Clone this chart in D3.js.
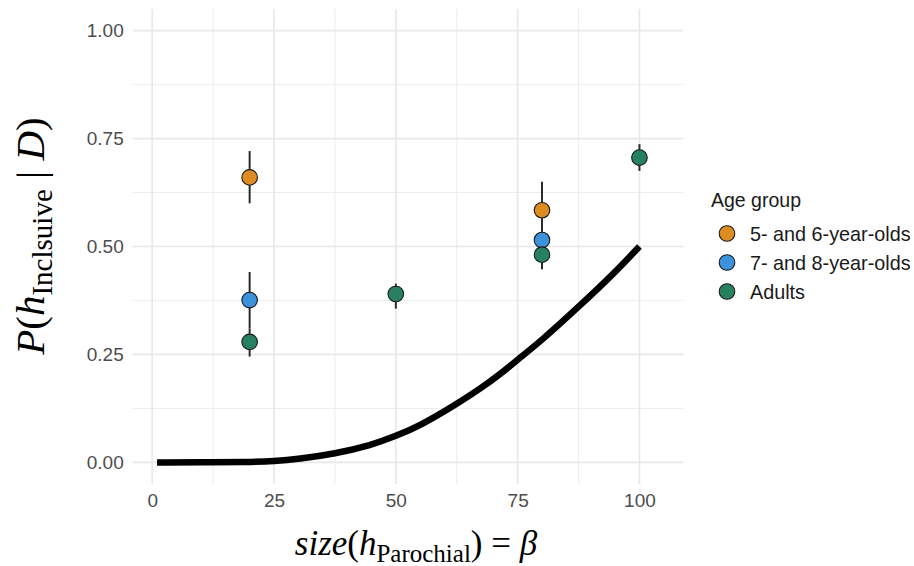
<!DOCTYPE html>
<html>
<head>
<meta charset="utf-8">
<script src="https://cdn.jsdelivr.net/npm/d3@7"></script>
<style>
  html, body { margin: 0; padding: 0; background: #fff; }
  svg { display: block; }
</style>
</head>
<body>
<svg id="chart" width="914" height="566"></svg>
<script>
// ---- data ----
const groups = ["5- and 6-year-olds", "7- and 8-year-olds", "Adults"];
const groupColors = ["#DD8C22", "#3D92DC", "#27805F"];

const xMajorTicks = [0, 25, 50, 75, 100];
const yMajorTicks = [0, 0.25, 0.5, 0.75, 1];
const xMinorTicks = [12.5, 37.5, 62.5, 87.5];
const yMinorTicks = [0.125, 0.375, 0.625, 0.875];

// observed points (beta, mean, lower, upper)
const kidsYoungX = [20, 80];
const kidsYoungMean = [0.660, 0.584];
const kidsYoungLow = [0.600, 0.520];
const kidsYoungHigh = [0.721, 0.650];

const kidsOldX = [20, 80];
const kidsOldMean = [0.376, 0.515];
const kidsOldLow = [0.310, 0.480];
const kidsOldHigh = [0.441, 0.550];

const adultsX = [20, 50, 80, 100];
const adultsMean = [0.279, 0.390, 0.481, 0.706];
const adultsLow = [0.245, 0.356, 0.447, 0.675];
const adultsHigh = [0.310, 0.414, 0.515, 0.737];

// model curve
const curveX = [1, 10, 20, 25, 30, 37.5, 45, 50, 55, 62.5, 67.5, 71.5, 75, 80, 87.5, 95, 100];
const curveY = [0, 0, 0.001, 0.003, 0.008, 0.020, 0.040, 0.061, 0.085, 0.135, 0.172, 0.205, 0.238, 0.283, 0.360, 0.440, 0.500];

// ---- build ----
const series = [
  {x: kidsYoungX, m: kidsYoungMean, lo: kidsYoungLow, hi: kidsYoungHigh},
  {x: kidsOldX, m: kidsOldMean, lo: kidsOldLow, hi: kidsOldHigh},
  {x: adultsX, m: adultsMean, lo: adultsLow, hi: adultsHigh}
];
const points = [];
series.forEach((s, gi) => s.x.forEach((xv, i) => points.push({g: gi, x: xv, m: s.m[i], lo: s.lo[i], hi: s.hi[i]})));
const curve = curveX.map((xv, i) => ({x: xv, y: curveY[i]}));

const svg = d3.select("#chart");
const x = d3.scaleLinear().domain([-4, 109]).range([132.7, 683.3]);
const y = d3.scaleLinear().domain([-0.05, 1.05]).range([484, 9]);

const grid = svg.append("g");
grid.selectAll(".vmin").data(xMinorTicks).join("line")
  .attr("x1", d => x(d)).attr("x2", d => x(d)).attr("y1", y.range()[0]).attr("y2", y.range()[1])
  .attr("stroke", "#ededed").attr("stroke-width", 1.1);
grid.selectAll(".hmin").data(yMinorTicks).join("line")
  .attr("y1", d => y(d)).attr("y2", d => y(d)).attr("x1", x.range()[0]).attr("x2", x.range()[1])
  .attr("stroke", "#ededed").attr("stroke-width", 1.1);
grid.selectAll(".vmaj").data(xMajorTicks).join("line")
  .attr("x1", d => x(d)).attr("x2", d => x(d)).attr("y1", y.range()[0]).attr("y2", y.range()[1])
  .attr("stroke", "#e8e8e8").attr("stroke-width", 1.7);
grid.selectAll(".hmaj").data(yMajorTicks).join("line")
  .attr("y1", d => y(d)).attr("y2", d => y(d)).attr("x1", x.range()[0]).attr("x2", x.range()[1])
  .attr("stroke", "#e8e8e8").attr("stroke-width", 1.7);

// axes (tick labels only, like theme_minimal)
const fmt = d3.format(".2f");
const xAxis = svg.append("g").attr("transform", `translate(0,${y.range()[0]})`)
  .call(d3.axisBottom(x).tickValues(xMajorTicks).tickSize(0).tickPadding(10).tickFormat(d3.format("d")));
const yAxis = svg.append("g").attr("transform", `translate(${x.range()[0]},0)`)
  .call(d3.axisLeft(y).tickValues(yMajorTicks).tickSize(0).tickPadding(9).tickFormat(fmt));
[xAxis, yAxis].forEach(a => {
  a.select(".domain").remove();
  a.selectAll("text").attr("fill", "#4d4d4d").style("font-family", "'Liberation Sans', Arial, sans-serif").style("font-size", "19px");
});
xAxis.selectAll("text").attr("dy", "0.71em");

// model curve
svg.append("path").datum(curve)
  .attr("d", d3.line().x(d => x(d.x)).y(d => y(d.y)).curve(d3.curveBasis))
  .attr("fill", "none").attr("stroke", "#000").attr("stroke-width", 6.5);

// error bars
svg.append("g").selectAll("line").data(points).join("line")
  .attr("x1", d => x(d.x)).attr("x2", d => x(d.x))
  .attr("y1", d => y(d.lo)).attr("y2", d => y(d.hi))
  .attr("stroke", "#2b2b2b").attr("stroke-width", 2);

// points
svg.append("g").selectAll("circle").data(points).join("circle")
  .attr("cx", d => x(d.x)).attr("cy", d => y(d.m)).attr("r", 7.8)
  .attr("fill", d => groupColors[d.g]).attr("stroke", "#1a1a1a").attr("stroke-width", 1.1);

// legend
const lg = svg.append("g").style("font-family", "'Liberation Sans', Arial, sans-serif");
lg.append("text").attr("x", 711).attr("y", 207).attr("fill", "#1a1a1a").style("font-size", "19.5px").text("Age group");
const ly = d3.scalePoint().domain(groups).range([233.5, 291.5]);
groups.forEach((g, i) => {
  lg.append("circle").attr("cx", 727).attr("cy", ly(g)).attr("r", 7.8)
    .attr("fill", groupColors[i]).attr("stroke", "#1a1a1a").attr("stroke-width", 1.1);
  lg.append("text").attr("x", 750).attr("y", ly(g)).attr("dy", "0.36em")
    .attr("fill", "#1a1a1a").style("font-size", "19.8px").text(g);
});

// axis titles (math style)
const serif = "'Liberation Serif', 'Times New Roman', serif";
const xt = svg.append("text").attr("x", 416).attr("y", 555).attr("text-anchor", "middle")
  .style("font-family", serif).style("font-size", "35px").attr("fill", "#000");
xt.append("tspan").style("font-style", "italic").text("size");
xt.append("tspan").text("(");
xt.append("tspan").style("font-style", "italic").text("h");
xt.append("tspan").attr("dy", 7).style("font-size", "25px").text("Parochial");
xt.append("tspan").attr("dy", -7).text(") = ");
xt.append("tspan").style("font-style", "italic").text("β");

const yt = svg.append("text").attr("transform", "translate(44,236) rotate(-90)").attr("text-anchor", "middle")
  .style("font-family", serif).style("font-size", "41px").attr("fill", "#000");
yt.append("tspan").style("font-style", "italic").text("P");
yt.append("tspan").text("(");
yt.append("tspan").style("font-style", "italic").text("h");
yt.append("tspan").attr("dy", 8).style("font-size", "29px").text("Inclsuive");
yt.append("tspan").attr("dy", -8).text(" | ");
yt.append("tspan").style("font-style", "italic").text("D");
yt.append("tspan").text(")");
</script>
</body>
</html>
